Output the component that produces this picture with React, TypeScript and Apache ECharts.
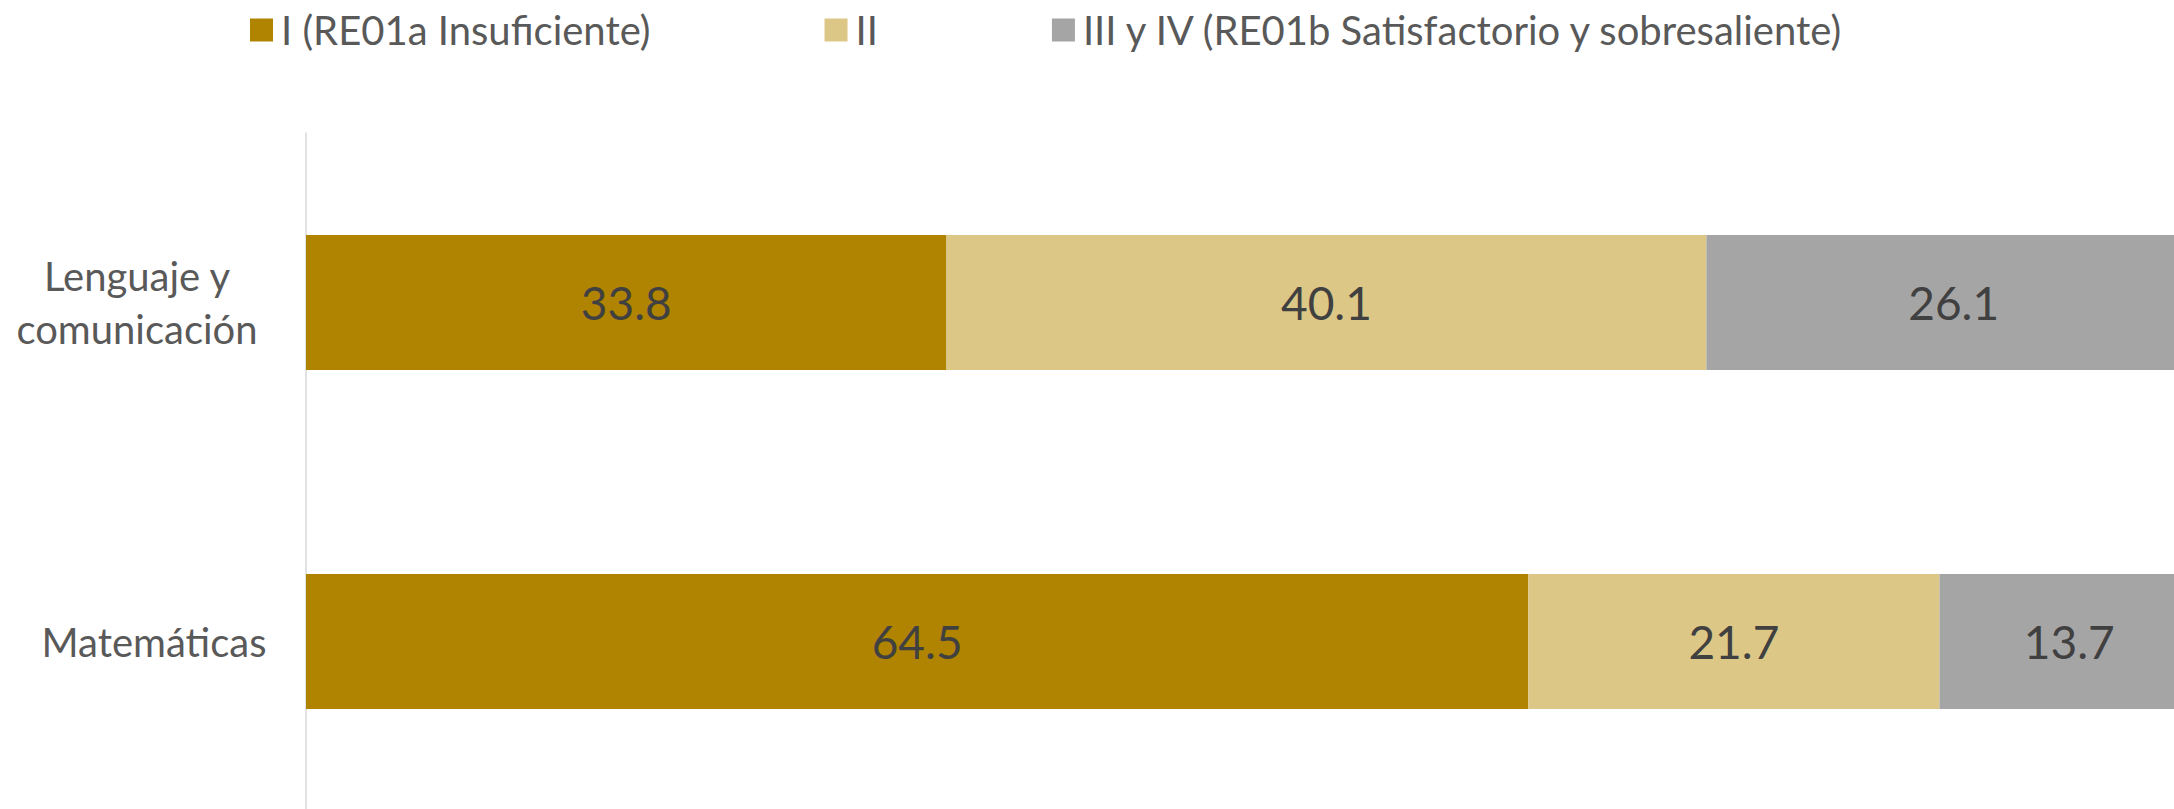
import React, { useEffect, useRef } from "react";
import * as echarts from "echarts";

const categories = ["Lenguaje y\ncomunicación", "Matemáticas"];
const seriesNames = [
  "I (RE01a Insuficiente)",
  "II",
  "III y IV (RE01b Satisfactorio y sobresaliente)",
];
const nivelI = [33.8, 64.5];
const nivelII = [40.1, 21.7];
const nivelIIIyIV = [26.1, 13.7];
const colors = ["#B08400", "#DCC786", "#A5A5A5"];

export default function App() {
  const ref = useRef<HTMLDivElement>(null);
  useEffect(() => {
    if (!ref.current) return;
    const chart = echarts.init(ref.current, undefined, { renderer: "svg" });
    const font = "Lato";
    const values = [nivelI, nivelII, nivelIIIyIV];
    const labelPads = [
      [0, 0, 0, 0],
      [0, 0, 0, 34],
    ];
    chart.setOption({
      animation: false,
      backgroundColor: "#FFFFFF",
      textStyle: { fontFamily: font },
      legend: {
        left: 250,
        top: 10,
        padding: 0,
        itemWidth: 23,
        itemHeight: 23,
        itemGap: 174,
        icon: "rect",
        textStyle: { fontSize: 40, color: "#595959", fontFamily: font, padding: [0, 0, 0, 3] },
        data: seriesNames,
      },
      grid: {
        left: 306,
        top: 133,
        width: 1895,
        height: 678,
        containLabel: false,
        outerBoundsMode: "none",
      },
      xAxis: {
        type: "value",
        min: 0,
        max: 100,
        show: false,
      },
      yAxis: {
        type: "category",
        inverse: true,
        data: categories.map((c, i) => ({
          value: c,
          textStyle: {
            align: "center",
            padding: labelPads[i],
            fontSize: 40,
            lineHeight: 53,
            color: "#595959",
            fontFamily: font,
          },
        })),
        axisLine: { show: true, lineStyle: { color: "#D9D9D9", width: 1.5 } },
        axisTick: { show: false },
        axisLabel: {
          align: "center",
          margin: 169,
          fontSize: 40,
          lineHeight: 53,
          color: "#595959",
          fontFamily: font,
        },
      },
      series: seriesNames.map((name, i) => ({
        name,
        type: "bar",
        stack: "total",
        barWidth: 135,
        data: values[i],
        itemStyle: { color: colors[i] },
        label: {
          show: true,
          position: "inside",
          fontSize: 46,
          color: "#404040",
          fontFamily: font,
          formatter: (p: any) => p.value.toFixed(1),
        },
      })),
    });
    return () => chart.dispose();
  }, []);
  return (
    <div
      ref={ref}
      style={{ position: "fixed", left: 0, top: 0, width: 2174, height: 809 }}
    />
  );
}
